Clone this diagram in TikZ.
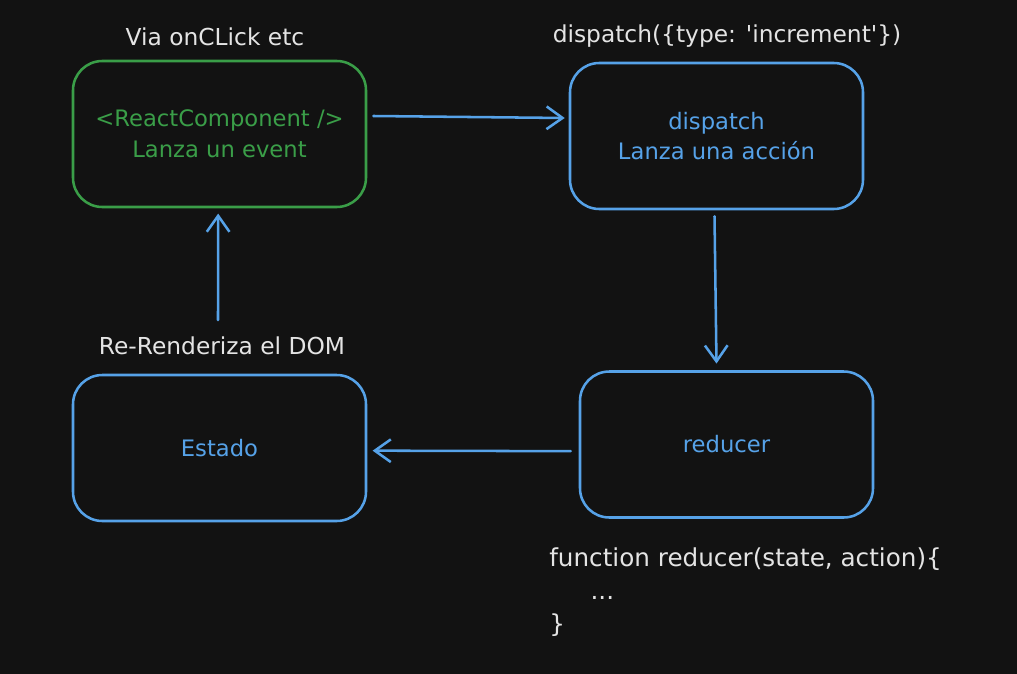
\documentclass[tikz,border=0pt]{standalone}
\usepackage{fontspec}
\setmainfont{DejaVu Sans}
\usetikzlibrary{arrows.meta}
\definecolor{bg}{HTML}{121212}
\definecolor{gr}{HTML}{3A9E48}
\definecolor{bl}{HTML}{56A2E8}
\definecolor{tx}{HTML}{E4E4E4}
\begin{document}
\begin{tikzpicture}[x=0.75pt,y=-0.75pt,
  box/.style={draw, line width=1.9pt, rounded corners=22pt, minimum width=219.75pt, minimum height=109.5pt, align=center, font=\fontsize{17}{23}\selectfont, inner sep=0pt},
  lbl/.style={text=tx, font=\fontsize{17.5}{19}\selectfont, inner sep=0pt},
  arr/.style={draw=bl, line width=1.9pt, line cap=round, -{Straight Barb[length=12pt,width=17pt,line width=1.9pt]}}]
\fill[bg] (0,0) rectangle (1017,674);
\useasboundingbox (0,0) rectangle (1017,674);
% boxes
\node[box, draw=gr, text=gr] (g) at (219.5,134) {<ReactComponent />\\Lanza un event};
\node[box, draw=bl, text=bl] (d) at (716.5,136) {dispatch\\Lanza una acción};
\node[box, draw=bl, text=bl] (r) at (726.5,444.5) {reducer};
\node[box, draw=bl, text=bl] (e) at (219.5,448) {Estado};
% labels
\node[lbl] (l1) at (215,37) {Via onCLick etc};
\node[lbl] (l2) at (727,36) {dispatch(\{type: \textquotesingle increment\textquotesingle\})};
\node[lbl] (l3) at (222,346) {Re-Renderiza el DOM};
\node[lbl, anchor=west, align=left, font=\fontsize{18.5}{25}\selectfont] (code) at (549,592) {function reducer(state, action)\{\\\hspace{31pt}...\\\}};
% connectors
\coordinate (s) at (218,320);
\draw[arr] ([xshift=4.5pt,yshift=13.5pt]g.east) -- ([xshift=-3pt,yshift=13.5pt]d.west);
\draw[arr] ([xshift=-1.5pt,yshift=-4.5pt]d.south) -- ([xshift=-7.5pt,yshift=5pt]r.north);
\draw[arr] ([xshift=-6pt,yshift=-5pt]r.west) -- ([xshift=4pt,yshift=-2pt]e.east);
\draw[arr] (s) -- ([xshift=-1pt,yshift=-4pt]g.south);
\end{tikzpicture}
\end{document}
